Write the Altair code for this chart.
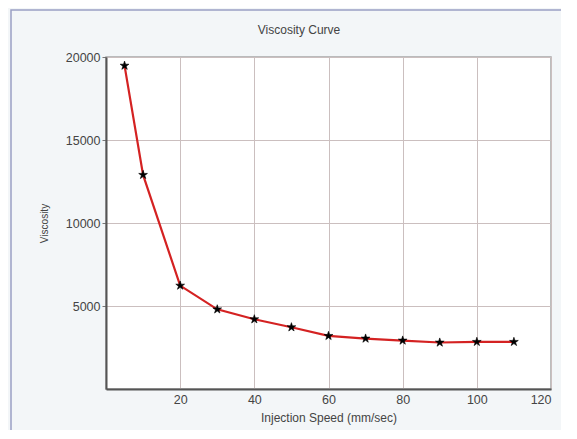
import altair as alt
import pandas as pd

speed = [5, 10, 20, 30, 40, 50, 60, 70, 80, 90, 100, 110]
viscosity = [19480, 12900, 6230, 4800, 4200, 3720, 3200, 3040, 2920, 2800, 2840, 2840]
x_ticks = [20, 40, 60, 80, 100, 120]
y_ticks = [5000, 10000, 15000, 20000]
chart_title = "Viscosity Curve"

df = pd.DataFrame({"speed": speed, "viscosity": viscosity})

W, H = 445, 332
FONT = "Liberation Sans"
STAR = ("M0,-1L0.2245,-0.309L0.951,-0.309L0.363,0.118L0.588,0.809L0,0.382"
        "L-0.588,0.809L-0.363,0.118L-0.951,-0.309L-0.2245,-0.309Z")

x_enc = alt.X("speed:Q", title="Injection Speed (mm/sec)",
              scale=alt.Scale(domain=[0, 120], nice=False, zero=True),
              axis=alt.Axis(values=x_ticks, grid=True, ticks=False, labelPadding=4, orient="bottom",
                            domainColor="#555555", domainWidth=2,
                            gridColor="#cbbfbf", gridWidth=1,
                            labelFontSize=12.5, labelColor="#444444", labelFont=FONT,
                            titleFontSize=12, titleColor="#444444", titleFont=FONT,
                            titleFontWeight="normal", titlePadding=7))
y_enc = alt.Y("viscosity:Q", title="Viscosity",
              scale=alt.Scale(domain=[0, 20000], nice=False),
              axis=alt.Axis(values=y_ticks, grid=True, tickSize=4, tickColor="#777777",
                            labelPadding=2, format="d", orient="left",
                            domainColor="#555555", domainWidth=2,
                            gridColor="#cbbfbf", gridWidth=1,
                            labelFontSize=12.5, labelColor="#444444", labelFont=FONT,
                            titleFontSize=10, titleColor="#444444", titleFont=FONT,
                            titleFontWeight="normal", titlePadding=16))

line = alt.Chart(df).mark_line(color="#d42222", strokeWidth=2.2).encode(x=x_enc, y=y_enc)
pts = alt.Chart(df).mark_point(shape=STAR, filled=True, fill="black", stroke="black",
                               strokeWidth=0.6, size=85, opacity=1).encode(
    x="speed:Q", y="viscosity:Q")
frame = alt.Chart(pd.DataFrame({"a": [0]})).mark_rect(
    fill="transparent", stroke="#9aa0c4", strokeWidth=1.5, clip=False
).encode(x=alt.value(-95), x2=alt.value(W + 40), y=alt.value(-47), y2=alt.value(H + 60))
title = alt.Chart(pd.DataFrame({"t": [chart_title]})).mark_text(
    font=FONT, fontSize=12, color="#444444", align="center", baseline="middle", clip=False
).encode(text="t:N", x=alt.value(193), y=alt.value(-27))

chart = alt.layer(line, pts, frame, title).properties(
    width=W, height=H,
    background="#f3f6f8",
    autosize=alt.AutoSizeParams(type="none"),
    padding={"left": 98, "top": 49, "right": 10, "bottom": 41},
).configure_view(fill="white", stroke="#a8a8a8", strokeWidth=1.5)

chart.save("out.html", embed_options={"renderer": "svg", "actions": False})
